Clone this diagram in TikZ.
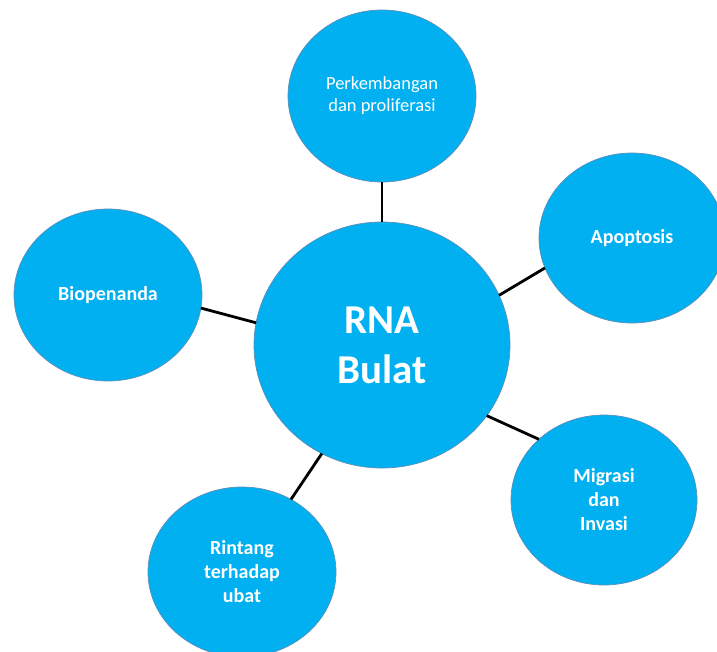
\documentclass[tikz,border=0pt]{standalone}
\usepackage{fontspec}
\setmainfont{Carlito}
\usetikzlibrary{shapes.geometric}
\definecolor{bubble}{HTML}{00B0F0}
\definecolor{rim}{HTML}{5B8FB9}
\tikzset{
  bub/.style={ellipse, fill=bubble, draw=rim, line width=0.7pt, inner sep=0pt, outer sep=0pt,
    text=white, align=center},
  small/.style={bub, font=\fontsize{20}{24}\selectfont\bfseries},
  link/.style={line width=2.8pt, black}
}
\begin{document}
\begin{tikzpicture}[x=1pt,y=-1pt]
\useasboundingbox (0,0) rectangle (717,651);
\clip (0,0) rectangle (717,651);
\node[bub, minimum width=256pt, minimum height=246pt, font=\fontsize{41}{50}\selectfont\bfseries] (c) at (382,345) {RNA\\Bulat};
\node[bub, minimum width=188pt, minimum height=172pt, font=\fontsize{18.5}{22}\selectfont] (t) at (382,96) {Perkembangan\\dan proliferasi};
\node[small, minimum width=186pt, minimum height=170pt] (a) at (632,238) {Apoptosis};
\node[small, minimum width=186pt, minimum height=170pt] (m) at (604,500) {Migrasi\\dan\\Invasi};
\node[small, minimum width=188pt, minimum height=170pt] (r) at (242,572) {Rintang\\terhadap\\ubat};
\node[small, minimum width=188pt, minimum height=172pt] (b) at (108,295) {Biopenanda};
\draw[link] (c.90) -- (t.270);
\draw[link] (c.23.8) -- (a.199.6);
\draw[link] (c.-34) -- (m.137.3);
\draw[link] (c.241.4) -- (r.56.3);
\draw[link] (c.170) -- (b.-8.5);
\end{tikzpicture}
\end{document}
